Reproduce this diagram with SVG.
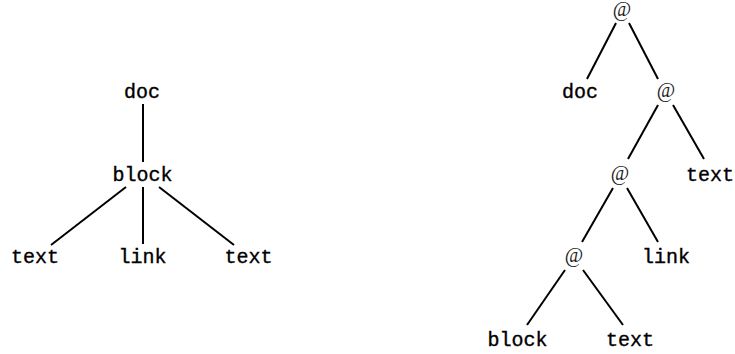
<svg xmlns="http://www.w3.org/2000/svg" width="735" height="354" viewBox="0 0 735 354">
<style>
.t{font-family:"Liberation Mono","DejaVu Sans Mono",monospace;font-size:20px;fill:#000;stroke:#000;stroke-width:0.35;text-anchor:middle}
.a{font-family:"Liberation Serif","DejaVu Serif",serif;font-size:20px;fill:#222;text-anchor:middle}
.e line{stroke:#000;stroke-width:2;stroke-linecap:butt}
</style>
<rect width="735" height="354" fill="#fff"/>
<g class="e" id="connectors">
<line x1="143" y1="104" x2="143" y2="162"/>
<line x1="126" y1="187" x2="51" y2="245"/>
<line x1="143" y1="187" x2="143" y2="244"/>
<line x1="159" y1="187" x2="234" y2="245"/>
<line x1="616" y1="23" x2="587" y2="79"/>
<line x1="629" y1="23" x2="658" y2="79"/>
<line x1="658" y1="105" x2="628" y2="159"/>
<line x1="673" y1="105" x2="704" y2="159"/>
<line x1="613" y1="188" x2="582" y2="242"/>
<line x1="627" y1="188" x2="658" y2="242"/>
<line x1="565" y1="270" x2="527" y2="325"/>
<line x1="583" y1="270" x2="623" y2="325"/>
</g>
<g id="l-doc"><text class="t" x="142" y="98">doc</text></g>
<g id="l-block"><text class="t" x="142.5" y="181">block</text></g>
<g id="l-text1"><text class="t" x="35" y="263">text</text></g>
<g id="l-link"><text class="t" x="142.5" y="263">link</text></g>
<g id="l-text2"><text class="t" x="248.5" y="263">text</text></g>
<g id="r-at1"><text class="a" x="622" y="16">@</text></g>
<g id="r-doc"><text class="t" x="580" y="98">doc</text></g>
<g id="r-at2"><text class="a" x="666" y="97">@</text></g>
<g id="r-at3"><text class="a" x="620" y="180">@</text></g>
<g id="r-text1"><text class="t" x="710" y="181">text</text></g>
<g id="r-at4"><text class="a" x="574" y="262">@</text></g>
<g id="r-link"><text class="t" x="666" y="263">link</text></g>
<g id="r-block"><text class="t" x="517.5" y="346">block</text></g>
<g id="r-text2"><text class="t" x="630" y="346">text</text></g>
</svg>
